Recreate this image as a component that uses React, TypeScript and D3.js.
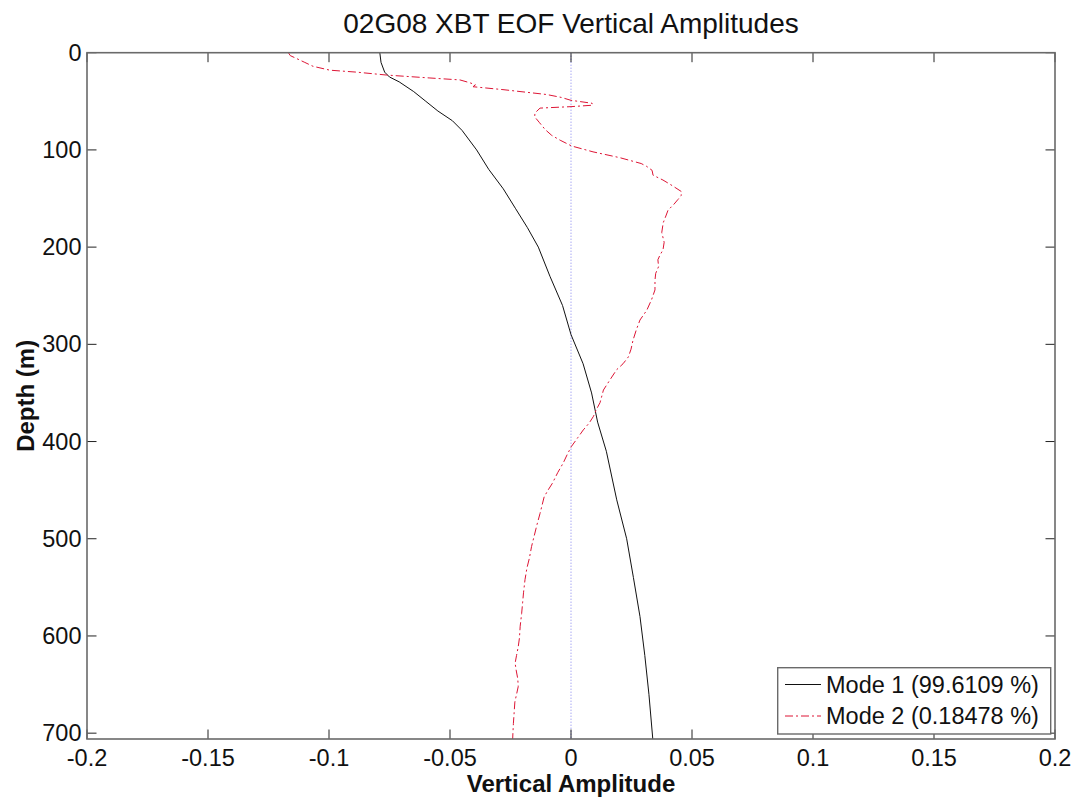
import React from "react";
import * as d3 from "d3";

const mode1Depth = [0, 10, 20, 25, 30, 40, 50, 60, 70, 80, 100, 120, 140, 160, 180, 200, 230, 260, 290, 320, 350, 380, 410, 460, 500, 540, 580, 620, 660, 706];
const mode1Amp = [-0.079, -0.0785, -0.077, -0.075, -0.071, -0.065, -0.06, -0.055, -0.049, -0.045, -0.039, -0.034, -0.028, -0.023, -0.018, -0.0135, -0.0087, -0.0035, 0.0, 0.005, 0.0085, 0.011, 0.0146, 0.0189, 0.023, 0.0258, 0.0285, 0.0305, 0.0322, 0.0338];

const mode2Depth = [0, 3, 6, 10, 14, 18, 20, 23, 26, 28, 31, 33, 35, 38, 43, 46, 49, 52, 54, 55.5, 57, 62, 66, 72, 79, 85, 90, 96, 102, 108, 114, 117, 121, 126, 131, 137, 143, 147, 151, 156, 162, 168, 175, 185, 195, 203, 208, 213, 220, 227, 234, 244, 254, 265, 275, 285, 296, 305, 313, 320, 326, 335, 347, 360, 367, 374, 381, 388, 396, 405, 413, 422, 432, 443, 450, 457, 466, 474, 485, 497, 508, 520, 530, 542, 555, 566, 577, 590, 602, 611, 620, 628, 636, 644, 652, 660, 668, 679, 690, 700, 706];
const mode2Amp = [-0.1168, -0.116, -0.1134, -0.11, -0.1066, -0.0996, -0.0886, -0.0762, -0.0583, -0.0459, -0.0417, -0.0395, -0.0405, -0.0281, -0.0101, -0.004, 0.0, 0.0087, 0.009, 0.0, -0.0128, -0.0149, -0.015, -0.013, -0.0107, -0.008, -0.0045, 0.0003, 0.0091, 0.0202, 0.029, 0.0313, 0.0335, 0.0339, 0.038, 0.042, 0.0457, 0.0455, 0.0442, 0.0425, 0.0401, 0.0392, 0.0381, 0.0375, 0.0385, 0.038, 0.0368, 0.0359, 0.0362, 0.035, 0.0347, 0.0347, 0.0333, 0.0313, 0.0285, 0.027, 0.0256, 0.0248, 0.0237, 0.0215, 0.0189, 0.0165, 0.0134, 0.012, 0.0105, 0.0093, 0.0075, 0.0051, 0.0028, 0.0002, -0.0015, -0.0032, -0.0055, -0.0077, -0.0095, -0.0111, -0.012, -0.0128, -0.014, -0.0152, -0.0163, -0.0172, -0.0182, -0.019, -0.0196, -0.02, -0.0204, -0.021, -0.0213, -0.0218, -0.0225, -0.0231, -0.0226, -0.022, -0.0218, -0.0225, -0.0232, -0.0235, -0.0238, -0.024, -0.0241];

const xTicks = [-0.2, -0.15, -0.1, -0.05, 0, 0.05, 0.1, 0.15, 0.2];
const xTickLabels = ["-0.2", "-0.15", "-0.1", "-0.05", "0", "0.05", "0.1", "0.15", "0.2"];
const yTicks = [0, 100, 200, 300, 400, 500, 600, 700];
const legendLabels = ["Mode 1 (99.6109 %)", "Mode 2 (0.18478 %)"];

const W = 1080, H = 806;
const L = 87, R = 1055, T = 52.7, B = 739;
const FONT = "'Liberation Sans', Arial, Helvetica, sans-serif";

export default function App() {
  const x = d3.scaleLinear().domain([-0.2, 0.2]).range([L, R]);
  const y = d3.scaleLinear().domain([0, 706]).range([T, B]);
  const line = d3.line<[number, number]>().x((d) => x(d[1])).y((d) => y(d[0]));
  const m1 = mode1Depth.map((d, i) => [d, mode1Amp[i]] as [number, number]);
  const m2 = mode2Depth.map((d, i) => [d, mode2Amp[i]] as [number, number]);
  const tickLen = 9.5;
  const axisColor = "#6a6a6a";
  const lgX = 777.7, lgY = 667.7, lgW = 273, lgH = 66.3;
  return (
    <svg width={W} height={H} style={{ position: "absolute", left: 0, top: 0, background: "#fff" }} fontFamily={FONT}>
      <rect x={0} y={0} width={W} height={H} fill="#fff" />
      <defs>
        <clipPath id="plotclip">
          <rect x={L} y={T} width={R - L} height={B - T} />
        </clipPath>
      </defs>
      {/* zero line */}
      <line x1={x(0)} x2={x(0)} y1={T} y2={B} stroke="#8080ee" strokeWidth={1} strokeDasharray="1,2" />
      <g clipPath="url(#plotclip)">
        <path d={line(m1) || ""} fill="none" stroke="#111" strokeWidth={1} />
        <path d={line(m2) || ""} fill="none" stroke="#dd1535" strokeWidth={1} strokeDasharray="8,3,2,3" />
      </g>
      {/* ticks */}
      {xTicks.map((t, i) => (
        <g key={"xt" + i}>
          <line x1={x(t)} x2={x(t)} y1={B} y2={B - tickLen} stroke="#222" strokeWidth={1} />
          <line x1={x(t)} x2={x(t)} y1={T} y2={T + tickLen} stroke="#222" strokeWidth={1} />
          <text x={x(t)} y={758} textAnchor="middle" dominantBaseline="central" fontSize={23.5} fill="#111">
            {xTickLabels[i]}
          </text>
        </g>
      ))}
      {yTicks.map((t, i) => (
        <g key={"yt" + i}>
          <line x1={L} x2={L + tickLen} y1={y(t)} y2={y(t)} stroke="#222" strokeWidth={1} />
          <line x1={R} x2={R - tickLen} y1={y(t)} y2={y(t)} stroke="#222" strokeWidth={1} />
          <text x={81.5} y={y(t)} textAnchor="end" dominantBaseline="central" fontSize={23.5} fill="#111">
            {String(t)}
          </text>
        </g>
      ))}
      {/* axes box */}
      <rect x={L} y={T} width={R - L} height={B - T} fill="none" stroke={axisColor} strokeWidth={1.6} />
      {/* title and labels */}
      <text x={(L + R) / 2} y={33} textAnchor="middle" fontSize={28} fill="#111">
        02G08 XBT EOF Vertical Amplitudes
      </text>
      <text x={(L + R) / 2} y={783} textAnchor="middle" dominantBaseline="central" fontSize={24} fontWeight="bold" fill="#111">
        Vertical Amplitude
      </text>
      <text transform={`translate(25,${(T + B) / 2}) rotate(-90)`} textAnchor="middle" dominantBaseline="central" fontSize={24} fontWeight="bold" fill="#111">
        Depth (m)
      </text>
      {/* legend */}
      <rect x={lgX} y={lgY} width={lgW} height={lgH} fill="#fff" stroke={axisColor} strokeWidth={1.4} />
      <line x1={785} x2={821} y1={684.5} y2={684.5} stroke="#111" strokeWidth={1} />
      <line x1={785} x2={821} y1={716} y2={716} stroke="#dd1535" strokeWidth={1} strokeDasharray="8,3,2,3" />
      <text x={826} y={685} dominantBaseline="central" fontSize={23.5} fill="#111">{legendLabels[0]}</text>
      <text x={826} y={716} dominantBaseline="central" fontSize={23.5} fill="#111">{legendLabels[1]}</text>
    </svg>
  );
}
